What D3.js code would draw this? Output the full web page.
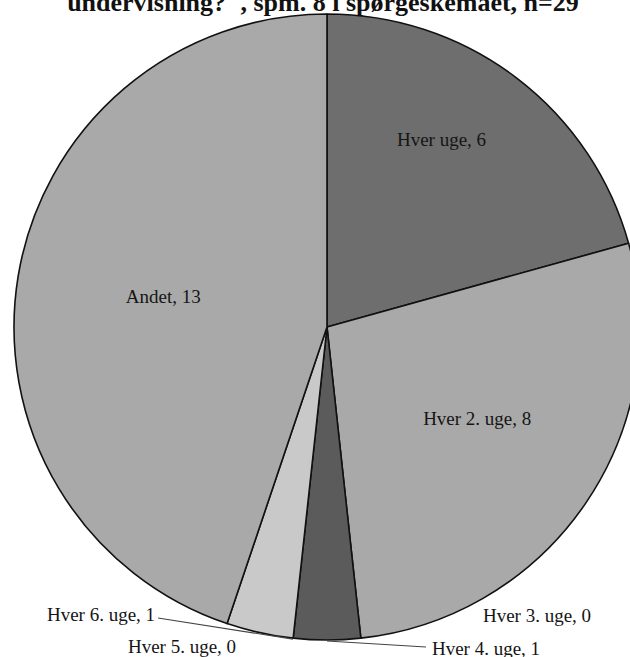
<!DOCTYPE html>
<html>
<head>
<meta charset="utf-8">
<script src="https://cdn.jsdelivr.net/npm/d3@7"></script>
<style>
  html, body { margin: 0; padding: 0; background: #fff; }
  svg { display: block; }
</style>
</head>
<body>
<svg id="chart" width="630" height="657"></svg>
<script>
// Survey answers: how often, question 8, n = 29
const categories = ["Hver uge", "Hver 2. uge", "Hver 3. uge", "Hver 4. uge", "Hver 5. uge", "Hver 6. uge", "Andet"];
const values = [6, 8, 0, 1, 0, 1, 13];
const sliceColors = ["#6e6e6e", "#a9a9a9", "#a9a9a9", "#5b5b5b", "#c9c9c9", "#c9c9c9", "#a9a9a9"];
const titleText = "undervisning?\", spm. 8 i spørgeskemaet, n=29";

const W = 630, H = 657;
const cx = 327, cy = 327, R = 313;

const svg = d3.select("#chart");

const pie = d3.pie().sort(null).value(d => d.value);
const data = categories.map((c, i) => ({ name: c, value: values[i], color: sliceColors[i] }));
const arcs = pie(data);

const arc = d3.arc().innerRadius(0).outerRadius(R);

const g = svg.append("g").attr("transform", `translate(${cx},${cy})`);

g.selectAll("path.slice")
  .data(arcs.filter(a => a.data.value > 0))
  .join("path")
  .attr("class", "slice")
  .attr("d", arc)
  .attr("fill", a => a.data.color)
  .attr("stroke", "#111")
  .attr("stroke-width", 1.6)
  .attr("stroke-linejoin", "round");

// point on a circle of radius r at pie angle a (clockwise from 12 o'clock)
const pt = (a, r) => [Math.sin(a) * r, -Math.cos(a) * r];

const font = "'Liberation Serif', 'Times New Roman', serif";
const labelText = a => `${a.data.name}, ${a.data.value}`;

// label placement: inside labels by radius fraction and angle nudge,
// outside labels anchored beside the rim, with optional leader lines
const labelLayout = {
  "Hver uge":    { inside: true, r: 0.70, da: -0.10, dy: 6 },
  "Hver 2. uge": { inside: true, r: 0.565, da: -0.04, dy: 5 },
  "Andet":       { inside: true, r: 0.53, da: 0.0, dy: 3 },
  "Hver 3. uge": { x: 537, y: 622 },
  "Hver 4. uge": { x: 486, y: 655, lead: [426, 647], at: "mid" },
  "Hver 5. uge": { x: 182, y: 653 },
  "Hver 6. uge": { x: 101, y: 621, lead: [158, 618], at: "start" }
};

const labels = svg.append("g")
  .attr("font-family", font)
  .attr("font-size", 19)
  .attr("fill", "#151515")
  .attr("text-anchor", "middle");

arcs.forEach(a => {
  const L = labelLayout[a.data.name];
  let x, y;
  if (L.inside) {
    const mid = (a.startAngle + a.endAngle) / 2 + L.da;
    const p = pt(mid, R * L.r);
    x = cx + p[0];
    y = cy + p[1] + L.dy;
  } else {
    x = L.x; y = L.y;
  }
  labels.append("text").attr("x", x).attr("y", y).text(labelText(a));

  if (L.lead) {
    const angle = L.at === "start" ? a.startAngle : (a.startAngle + a.endAngle) / 2;
    const p = pt(angle, R + 1);
    svg.append("path")
      .attr("d", d3.line()([[cx + p[0], cy + p[1]], L.lead]))
      .attr("fill", "none")
      .attr("stroke", "#444")
      .attr("stroke-width", 1.1);
  }
});

svg.append("text")
  .attr("x", 323)
  .attr("y", 11)
  .attr("text-anchor", "middle")
  .attr("font-family", font)
  .attr("font-weight", "bold")
  .attr("font-size", 26)
  .attr("fill", "#111")
  .text(titleText);
</script>
</body>
</html>
